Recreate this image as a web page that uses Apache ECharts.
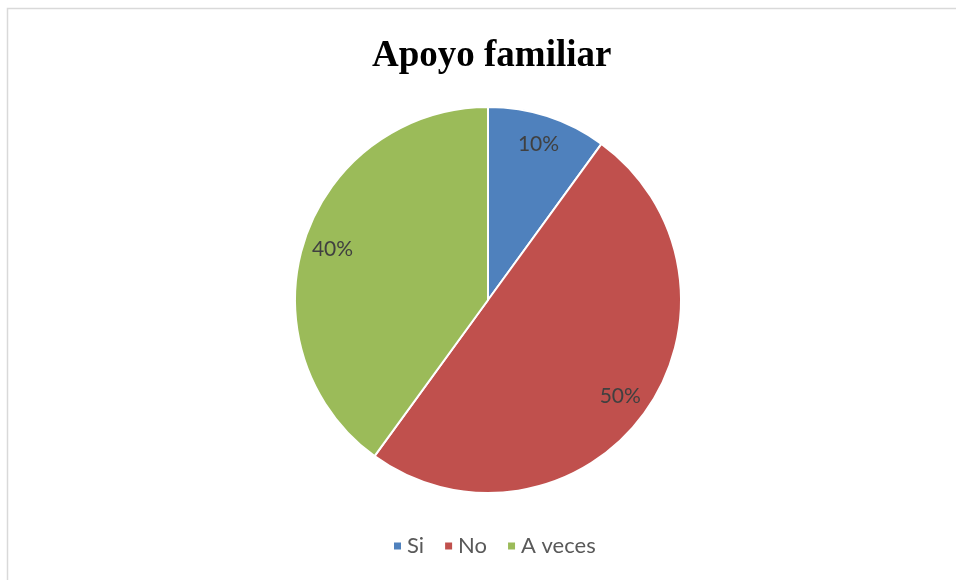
<!DOCTYPE html>
<html><head><meta charset="utf-8">
<script src="https://cdn.jsdelivr.net/npm/echarts@6/dist/echarts.min.js"></script>
<style>html,body{margin:0;padding:0;background:#fff}#c{width:956px;height:580px}</style>
</head><body><div id="c"></div>
<script>
const categories = ['Si', 'No', 'A veces'];
const values = [10, 50, 40];
const colors = ['#4F81BD', '#C0504D', '#9BBB59'];
const titleText = 'Apoyo familiar';

const chart = echarts.init(document.getElementById('c'), null, {renderer: 'canvas'});
const data = categories.map((n, i) => ({name: n, value: values[i], itemStyle: {color: colors[i]}}));
chart.setOption({
  animation: false,
  backgroundColor: '#fff',
  graphic: [{type: 'rect', shape: {x: 7.5, y: 8.5, width: 960, height: 600}, style: {fill: 'none', stroke: '#d9d9d9', lineWidth: 1.5}, silent: true}],
  title: {text: titleText, left: 367, top: 33, textStyle: {fontFamily: 'Liberation Serif', fontWeight: 'bold', fontSize: 37, color: '#000'}},
  legend: {data: categories, bottom: 18, left: 387, itemWidth: 9, itemHeight: 9, itemGap: 19, icon: 'rect',
    textStyle: {fontFamily: 'Lato', fontSize: 22, color: '#595959'}},
  series: [
    {type: 'pie', center: [488, 300], radius: [0, 193], startAngle: 90, clockwise: true, data: data,
     itemStyle: {borderColor: '#fff', borderWidth: 2}, label: {show: false}, labelLine: {show: false}, silent: true, legendHoverLink: false},
    {type: 'pie', center: [488, 300], radius: [128, 193], startAngle: 90, clockwise: true,
     data: categories.map((n, i) => ({name: n, value: values[i]})),
     itemStyle: {color: 'rgba(0,0,0,0)'}, silent: true, legendHoverLink: false,
     label: {show: true, position: 'inside', formatter: p => p.value + '%', fontFamily: 'Lato', fontSize: 21, color: '#404040'},
     labelLine: {show: false}}
  ]
});
</script></body></html>
